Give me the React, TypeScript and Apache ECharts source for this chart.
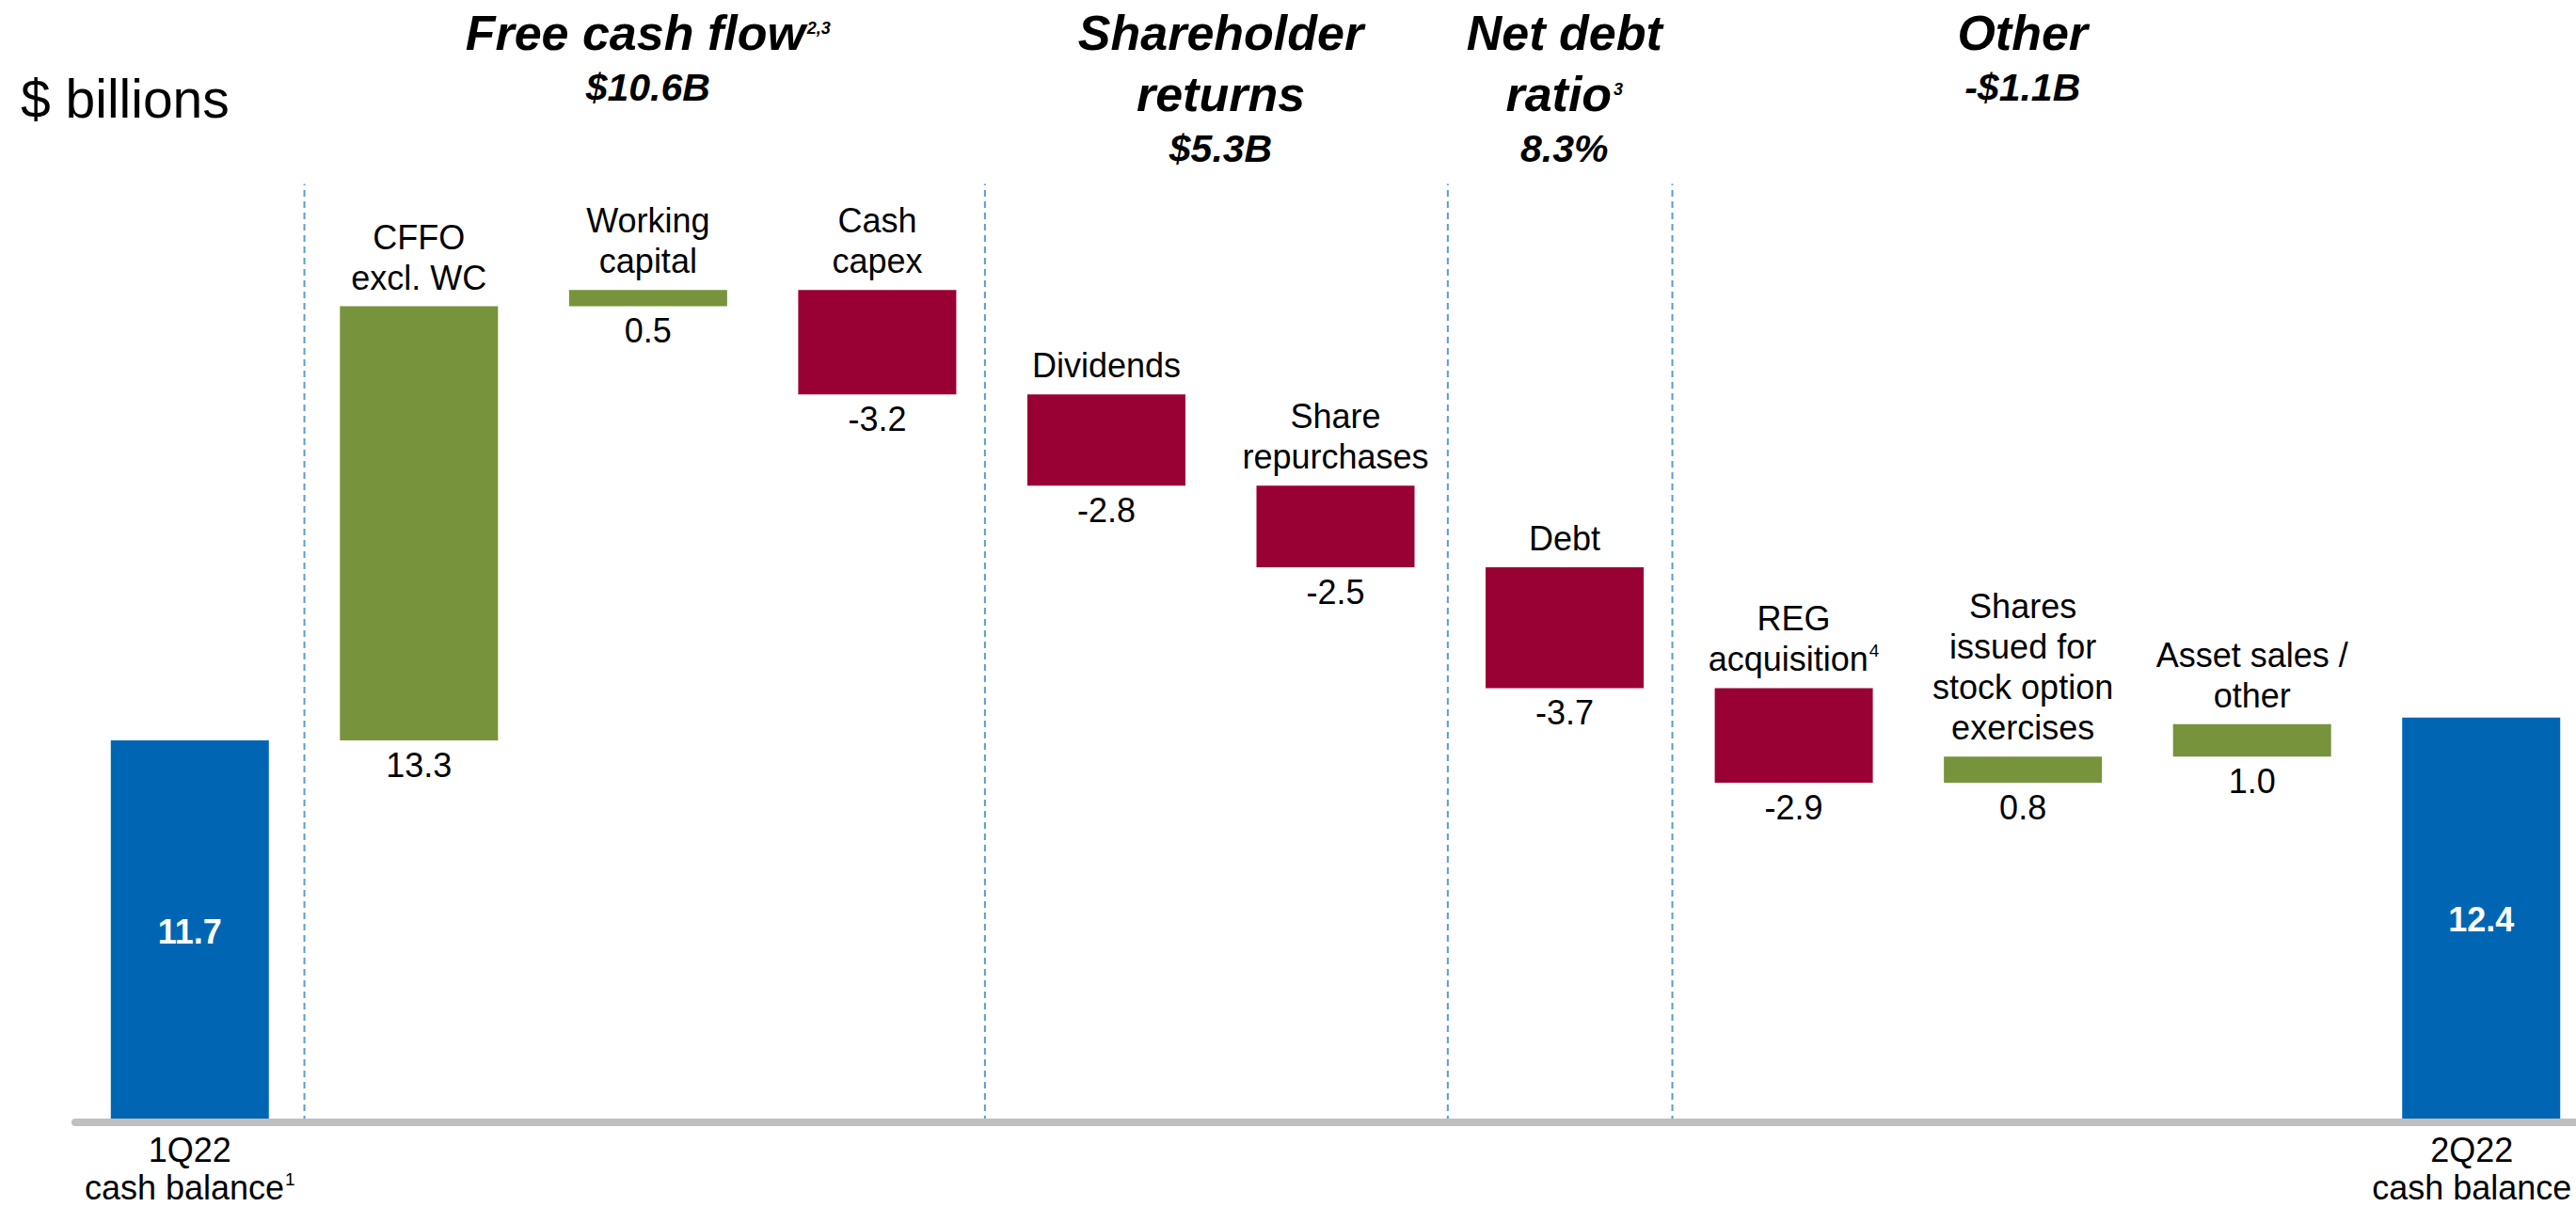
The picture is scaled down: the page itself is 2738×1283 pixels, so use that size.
import React, { useEffect, useRef } from "react";
import * as echarts from "echarts";

// ---------- data ----------
const categories = [
  "1Q22\ncash balance",
  "CFFO\nexcl. WC",
  "Working\ncapital",
  "Cash\ncapex",
  "Dividends",
  "Share\nrepurchases",
  "Debt",
  "REG\nacquisition",
  "Shares\nissued for\nstock option\nexercises",
  "Asset sales /\nother",
  "2Q22\ncash balance",
];
const footnotes = ["1", "", "", "", "", "", "", "4", "", "", ""];
const openingBalance = 11.7;
const closingBalance = 12.4;
const changes = [13.3, 0.5, -3.2, -2.8, -2.5, -3.7, -2.9, 0.8, 1.0];

const headerTitles = [["Free cash flow"], ["Shareholder", "returns"], ["Net debt", "ratio"], ["Other"]];
const headerFootnotes = ["2,3", "", "3", ""];
const headerValues = ["$10.6B", "$5.3B", "8.3%", "-$1.1B"];
const headerCategoryCenters = [2, 4.5, 6, 8];
const dividerPositions = [0.5, 3.47, 5.49, 6.47];
const dividerTop = 28.75;
const unitLabel = "$ billions";

// ---------- style / layout ----------
const FONT = '"Liberation Sans", Arial, Helvetica, sans-serif';
const W = 2738;
const H = 1283;
const GRID_LEFT = 80;
const BAND = 243.5;
const CHART_W = Math.ceil(GRID_LEFT + BAND * categories.length);
const AXIS_Y = 1193;
const GRID_TOP = 152;
const Y_MAX = 30;
const COLORS = { total: "#0066B3", up: "#77933C", down: "#990033" };

const r1 = (v: number) => Math.round(v * 100) / 100;

function richLabel(cat: string, fn: string, style = "a") {
  const lines = cat.split("\n").map((l) => `{${style}|${l}}`);
  if (fn) lines[lines.length - 1] += `{s|${fn}}`;
  return lines.join("\n");
}

export default function App() {
  const ref = useRef<HTMLDivElement>(null);

  useEffect(() => {
    if (!ref.current) return;
    const chart = echarts.init(ref.current, undefined, { renderer: "svg" });

    const last = categories.length - 1;
    const baseData: number[] = [];
    const barData: any[] = [];
    let running = openingBalance;
    baseData.push(0);
    barData.push({ value: openingBalance, itemStyle: { color: COLORS.total }, label: { position: "inside" } });
    changes.forEach((c) => {
      const end = r1(running + c);
      baseData.push(Math.min(running, end));
      barData.push({ value: Math.abs(c), itemStyle: { color: c >= 0 ? COLORS.up : COLORS.down } });
      running = end;
    });
    baseData.push(0);
    barData.push({ value: closingBalance, itemStyle: { color: COLORS.total }, label: { position: "inside" } });

    const labelRich = {
      a: { fontSize: 36, lineHeight: 43, fontFamily: FONT, color: "#000" },
      s: { fontSize: 19, lineHeight: 19, fontFamily: FONT, color: "#000", verticalAlign: "top", padding: [3, 0, 0, 1] },
      t: { fontSize: 36, lineHeight: 43, fontFamily: FONT, color: "#fff", fontWeight: "bold" },
    };
    const axisRich = {
      a: { fontSize: 36, lineHeight: 40, fontFamily: FONT, color: "#000" },
      b: { fontSize: 36, lineHeight: 40, fontFamily: FONT, color: "#000", padding: [0, 20, 0, 0] },
      s: { fontSize: 19, lineHeight: 19, fontFamily: FONT, color: "#000", verticalAlign: "top", padding: [2, 0, 0, 1] },
    };

    const dividerSeries = dividerPositions.map((x) => ({
      type: "line",
      xAxisIndex: 1,
      yAxisIndex: 0,
      symbol: "none",
      silent: true,
      z: 1,
      lineStyle: { color: "#5B9BD5", width: 2, type: [7, 5] },
      data: [
        [x, 0],
        [x, dividerTop],
      ],
    }));

    const catX = (c: number) => GRID_LEFT + (c + 0.5) * BAND;
    const titleRich = {
      h: { fontSize: 52, lineHeight: 52, fontFamily: FONT, fontWeight: "bold", fontStyle: "italic", color: "#000" },
      s: {
        fontSize: 18,
        lineHeight: 18,
        fontFamily: FONT,
        fontWeight: "bold",
        fontStyle: "italic",
        color: "#000",
        verticalAlign: "top",
        padding: [12, 0, 0, 2],
      },
      v: { fontSize: 41, lineHeight: 41, fontFamily: FONT, fontWeight: "bold", fontStyle: "italic", color: "#000" },
    };
    const graphics: any[] = [];
    const textEl = (x: number, y: number, text: string, align: string, rich: any) => ({
      type: "text",
      x,
      y,
      silent: true,
      style: {
        text,
        align,
        textAlign: align,
        verticalAlign: "middle",
        textVerticalAlign: "middle",
        rich,
        fill: "#000",
      },
    });
    headerTitles.forEach((lines, gi) => {
      const x = catX(headerCategoryCenters[gi]);
      const ys = lines.length === 1 ? [35] : [35, 100];
      lines.forEach((ln, li) => {
        let t = `{h|${ln}}`;
        if (li === lines.length - 1 && headerFootnotes[gi]) t += `{s|${headerFootnotes[gi]}}`;
        graphics.push(textEl(x, ys[li], t, "center", titleRich));
      });
      const vy = lines.length === 1 ? 93 : 158;
      graphics.push(textEl(x, vy, `{v|${headerValues[gi]}}`, "center", titleRich));
    });
    graphics.push({
      type: "text",
      x: 22,
      y: 105,
      silent: true,
      style: {
        text: unitLabel,
        fontSize: 57,
        fontFamily: FONT,
        fill: "#000",
        align: "left",
        textAlign: "left",
        verticalAlign: "middle",
        textVerticalAlign: "middle",
      },
    });

    chart.setOption({
      animation: false,
      backgroundColor: "#fff",
      grid: { left: GRID_LEFT, right: 0, top: GRID_TOP, bottom: H - AXIS_Y, containLabel: false },
      xAxis: [
        {
          type: "category",
          data: categories,
          z: 5,
          axisLine: { show: true, lineStyle: { color: "#BFBFBF", width: 8 } },
          axisTick: { show: false },
          axisLabel: {
            interval: 0,
            margin: 9,
            formatter: (_v: string, i: number) =>
              i === 0
                ? richLabel(categories[i], footnotes[i], "a")
                : i === last
                ? richLabel(categories[i], footnotes[i], "b")
                : "",
            rich: axisRich,
          },
        },
        { type: "value", min: -0.5, max: categories.length - 0.5, show: false },
      ],
      yAxis: { type: "value", min: 0, max: Y_MAX, show: false, splitLine: { show: false } },
      series: [
        {
          type: "bar",
          stack: "w",
          barWidth: 168,
          silent: true,
          itemStyle: { color: "rgba(0,0,0,0)" },
          label: {
            show: true,
            position: "insideTop",
            distance: 6,
            fontSize: 36,
            lineHeight: 40,
            fontFamily: FONT,
            color: "#000",
            textBorderWidth: 0,
            formatter: (p: any) =>
              p.dataIndex === 0 || p.dataIndex === last ? "" : changes[p.dataIndex - 1].toFixed(1),
          },
          data: baseData,
        },
        {
          type: "bar",
          stack: "w",
          barWidth: 168,
          silent: true,
          label: {
            show: true,
            position: "top",
            distance: 9,
            textBorderWidth: 0,
            formatter: (p: any) =>
              p.dataIndex === 0 || p.dataIndex === last
                ? `{t|${Number(p.value).toFixed(1)}}`
                : richLabel(categories[p.dataIndex], footnotes[p.dataIndex]),
            rich: labelRich,
          },
          data: barData,
        },
        ...dividerSeries,
      ],
      graphic: graphics,
    });

    return () => chart.dispose();
  }, []);

  return (
    <div style={{ position: "absolute", left: 0, top: 0, width: W, height: H, overflow: "hidden", background: "#fff" }}>
      <div ref={ref} style={{ width: CHART_W, height: H }} />
    </div>
  );
}
